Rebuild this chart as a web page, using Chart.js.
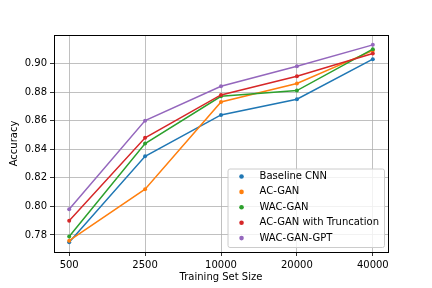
<!DOCTYPE html>
<html>
<head>
<meta charset="utf-8">
<script src="https://cdn.jsdelivr.net/npm/chart.js@4"></script>
<style>
  html, body { margin: 0; padding: 0; background: #fff; }
  #wrap { width: 432px; height: 288px; }
</style>
</head>
<body>
<div id="wrap"><canvas id="chart" width="432" height="288"></canvas></div>
<script>
// ---- data ----
const trainSizes = ['500', '2500', '10000', '20000', '40000'];
const yTicks = [0.78, 0.80, 0.82, 0.84, 0.86, 0.88, 0.90];

const baselineCnn   = [0.775, 0.835, 0.864, 0.875, 0.903];
const acGan         = [0.776, 0.812, 0.873, 0.886, 0.909];
const wacGan        = [0.779, 0.844, 0.877, 0.881, 0.910];
const acGanTrunc    = [0.790, 0.848, 0.878, 0.891, 0.907];
const wacGanGpt     = [0.798, 0.860, 0.884, 0.898, 0.913];

const seriesNames  = ['Baseline CNN', 'AC-GAN', 'WAC-GAN', 'AC-GAN with Truncation', 'WAC-GAN-GPT'];
const seriesValues = [baselineCnn, acGan, wacGan, acGanTrunc, wacGanGpt];
const COLORS = ['#1f77b4', '#ff7f0e', '#2ca02c', '#d62728', '#9467bd'];

const FONT = { family: 'DejaVu Sans', size: 10 };

// top + right spines
const framePlugin = {
    id: 'frame',
    afterDatasetsDraw(chart) {
        const { ctx, chartArea: a } = chart;
        ctx.save();
        ctx.strokeStyle = '#000';
        ctx.lineWidth = 1;
        ctx.strokeRect(Math.round(a.left) + 0.5, Math.round(a.top) + 0.5,
                       Math.round(a.right - a.left), Math.round(a.bottom - a.top));
        ctx.restore();
    }
};

// matplotlib-like legend in the lower right corner
const legendPlugin = {
    id: 'mplLegend',
    afterDraw(chart) {
        const { ctx, chartArea: a } = chart;
        const sets = chart.data.datasets;
        ctx.save();
        ctx.font = '10px "DejaVu Sans"';
        const maxW = Math.max(...sets.map(d => ctx.measureText(d.label).width));
        const rowH = 15.4;
        const right = a.right - 4, bottom = a.bottom - 5;
        const w = maxW + 37, h = rowH * sets.length + 1.5;
        const left = right - w, top = bottom - h;

        ctx.beginPath();
        ctx.roundRect(left + 0.5, top + 0.5, w, h, 2);
        ctx.fillStyle = 'rgba(255,255,255,0.8)';
        ctx.fill();
        ctx.strokeStyle = '#cccccc';
        ctx.lineWidth = 1;
        ctx.stroke();

        sets.forEach((d, i) => {
            const y = top + 8 + i * rowH;
            ctx.beginPath();
            ctx.arc(left + 14, y, 2.3, 0, Math.PI * 2);
            ctx.fillStyle = d.borderColor;
            ctx.fill();
            ctx.fillStyle = '#000';
            ctx.textBaseline = 'middle';
            ctx.textAlign = 'left';
            ctx.fillText(d.label, left + 32, y);
        });
        ctx.restore();
    }
};

const datasets = seriesNames.map((name, i) => ({
    label: name,
    data: seriesValues[i].map((v, j) => ({ x: j, y: v })),
    borderColor: COLORS[i],
    backgroundColor: COLORS[i],
    borderWidth: 1.5,
    pointRadius: 2,
    pointBorderWidth: 0,
    pointHoverRadius: 2,
    order: seriesNames.length - i,
    tension: 0,
}));

new Chart(document.getElementById('chart'), {
    type: 'line',
    data: { datasets },
    options: {
        responsive: false,
        animation: false,
        events: [],
        layout: { padding: { left: 0, right: 44, top: 35, bottom: 0 } },
        plugins: { legend: { display: false }, tooltip: { enabled: false } },
        scales: {
            x: {
                type: 'linear',
                min: -0.2, max: 4.2,
                afterBuildTicks: axis => { axis.ticks = trainSizes.map((_, i) => ({ value: i })); },
                afterFit: axis => { axis.height = 36; },
                ticks: {
                    color: '#000', font: FONT, padding: 3, maxRotation: 0, autoSkip: false,
                    callback: v => trainSizes[v] ?? '',
                },
                grid: { color: '#b0b0b0', lineWidth: 0.8, tickLength: 4, tickColor: '#000' },
                border: { color: '#000', width: 1 },
                title: { display: true, text: 'Training Set Size', color: '#000', font: FONT,
                         padding: { top: 0, bottom: 5 } },
            },
            y: {
                min: 0.7681, max: 0.9199,
                afterBuildTicks: axis => { axis.ticks = yTicks.map(v => ({ value: v })); },
                afterFit: axis => { axis.width = 54; },
                ticks: { color: '#000', font: FONT, padding: 3, callback: v => v.toFixed(2) },
                grid: { color: '#b0b0b0', lineWidth: 0.8, tickLength: 4, tickColor: '#000' },
                border: { color: '#000', width: 1 },
                title: { display: true, text: 'Accuracy', color: '#000', font: FONT,
                         padding: { top: 8, bottom: 0 } },
            },
        },
    },
    plugins: [framePlugin, legendPlugin],
});
</script>
</body>
</html>
